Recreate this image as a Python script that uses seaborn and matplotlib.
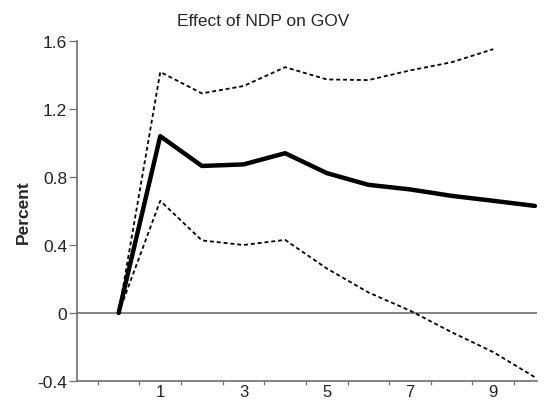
import matplotlib
matplotlib.use("Agg")
import matplotlib.pyplot as plt
import seaborn as sns
import pandas as pd
from matplotlib.ticker import FixedLocator

sns.set_style("white")
plt.rcParams['font.family'] = ['Liberation Sans', 'DejaVu Sans']

periods = [0, 1, 2, 3, 4, 5, 6, 7, 8, 9, 10]
response = [0.0, 1.04, 0.865, 0.874, 0.94, 0.823, 0.754, 0.727, 0.689, 0.66, 0.63]
upper_periods = [0, 1, 2, 3, 4, 5, 6, 7, 8, 9]
upper_band = [0.0, 1.418, 1.292, 1.335, 1.446, 1.374, 1.37, 1.427, 1.475, 1.552]
lower_band = [0.0, 0.66, 0.427, 0.40, 0.43, 0.262, 0.121, 0.014, -0.113, -0.23, -0.378]
x_labels = ["1", "3", "5", "7", "9"]
y_ticks = [-0.4, 0, 0.4, 0.8, 1.2, 1.6]
y_labels = ["-0.4", "0", "0.4", "0.8", "1.2", "1.6"]

df_mid = pd.DataFrame({"period": periods, "value": response})
df_up = pd.DataFrame({"period": upper_periods, "value": upper_band})
df_lo = pd.DataFrame({"period": periods, "value": lower_band})

fig = plt.figure(figsize=(5.47, 4.02), dpi=100)
ax = fig.add_axes([77/547, 20/402, (537-77)/547, 340/402])

ax.axhline(0, color="#6e6e6e", lw=1.2, zorder=1)
sns.lineplot(data=df_up, x="period", y="value", ax=ax, color="black", lw=1.3,
             linestyle=(0, (2.2, 1.6)), zorder=3)
sns.lineplot(data=df_lo, x="period", y="value", ax=ax, color="black", lw=1.3,
             linestyle=(0, (2.2, 1.6)), zorder=3)
sns.lineplot(data=df_mid, x="period", y="value", ax=ax, color="black", lw=3.2,
             zorder=4)

ax.set_xlim(-1, 10.05)
ax.set_ylim(-0.4, 1.6)

odd = [1, 3, 5, 7, 9]
ax.xaxis.set_major_locator(FixedLocator(odd))
ax.set_xticklabels(x_labels)
ax.xaxis.set_minor_locator(FixedLocator([i + 0.5 for i in range(-1, 10)]))
ax.tick_params(axis="x", which="major", length=0, pad=2.5, labelsize=12, colors="#222222")
ax.tick_params(axis="x", which="minor", bottom=True, length=3, width=0.9, color="#6e6e6e", direction="out")

ax.set_yticks(y_ticks)
ax.set_yticklabels(y_labels)
ax.tick_params(axis="y", which="major", left=True, length=6, width=0.9, color="#6e6e6e",
               pad=1, labelsize=12.5, labelcolor="#222222", direction="out")

for s in ["top", "right"]:
    ax.spines[s].set_visible(False)
for s in ["left", "bottom"]:
    ax.spines[s].set_color("#6e6e6e")
    ax.spines[s].set_linewidth(1.2)

ax.set_xlabel("")
ax.set_ylabel("Percent", fontsize=12.5, fontweight="bold", labelpad=5)
fig.text(263/547, 1 - 21/402, "Effect of NDP on GOV", ha="center", va="center", fontsize=12.5)

fig.savefig("out.png", dpi=100)
